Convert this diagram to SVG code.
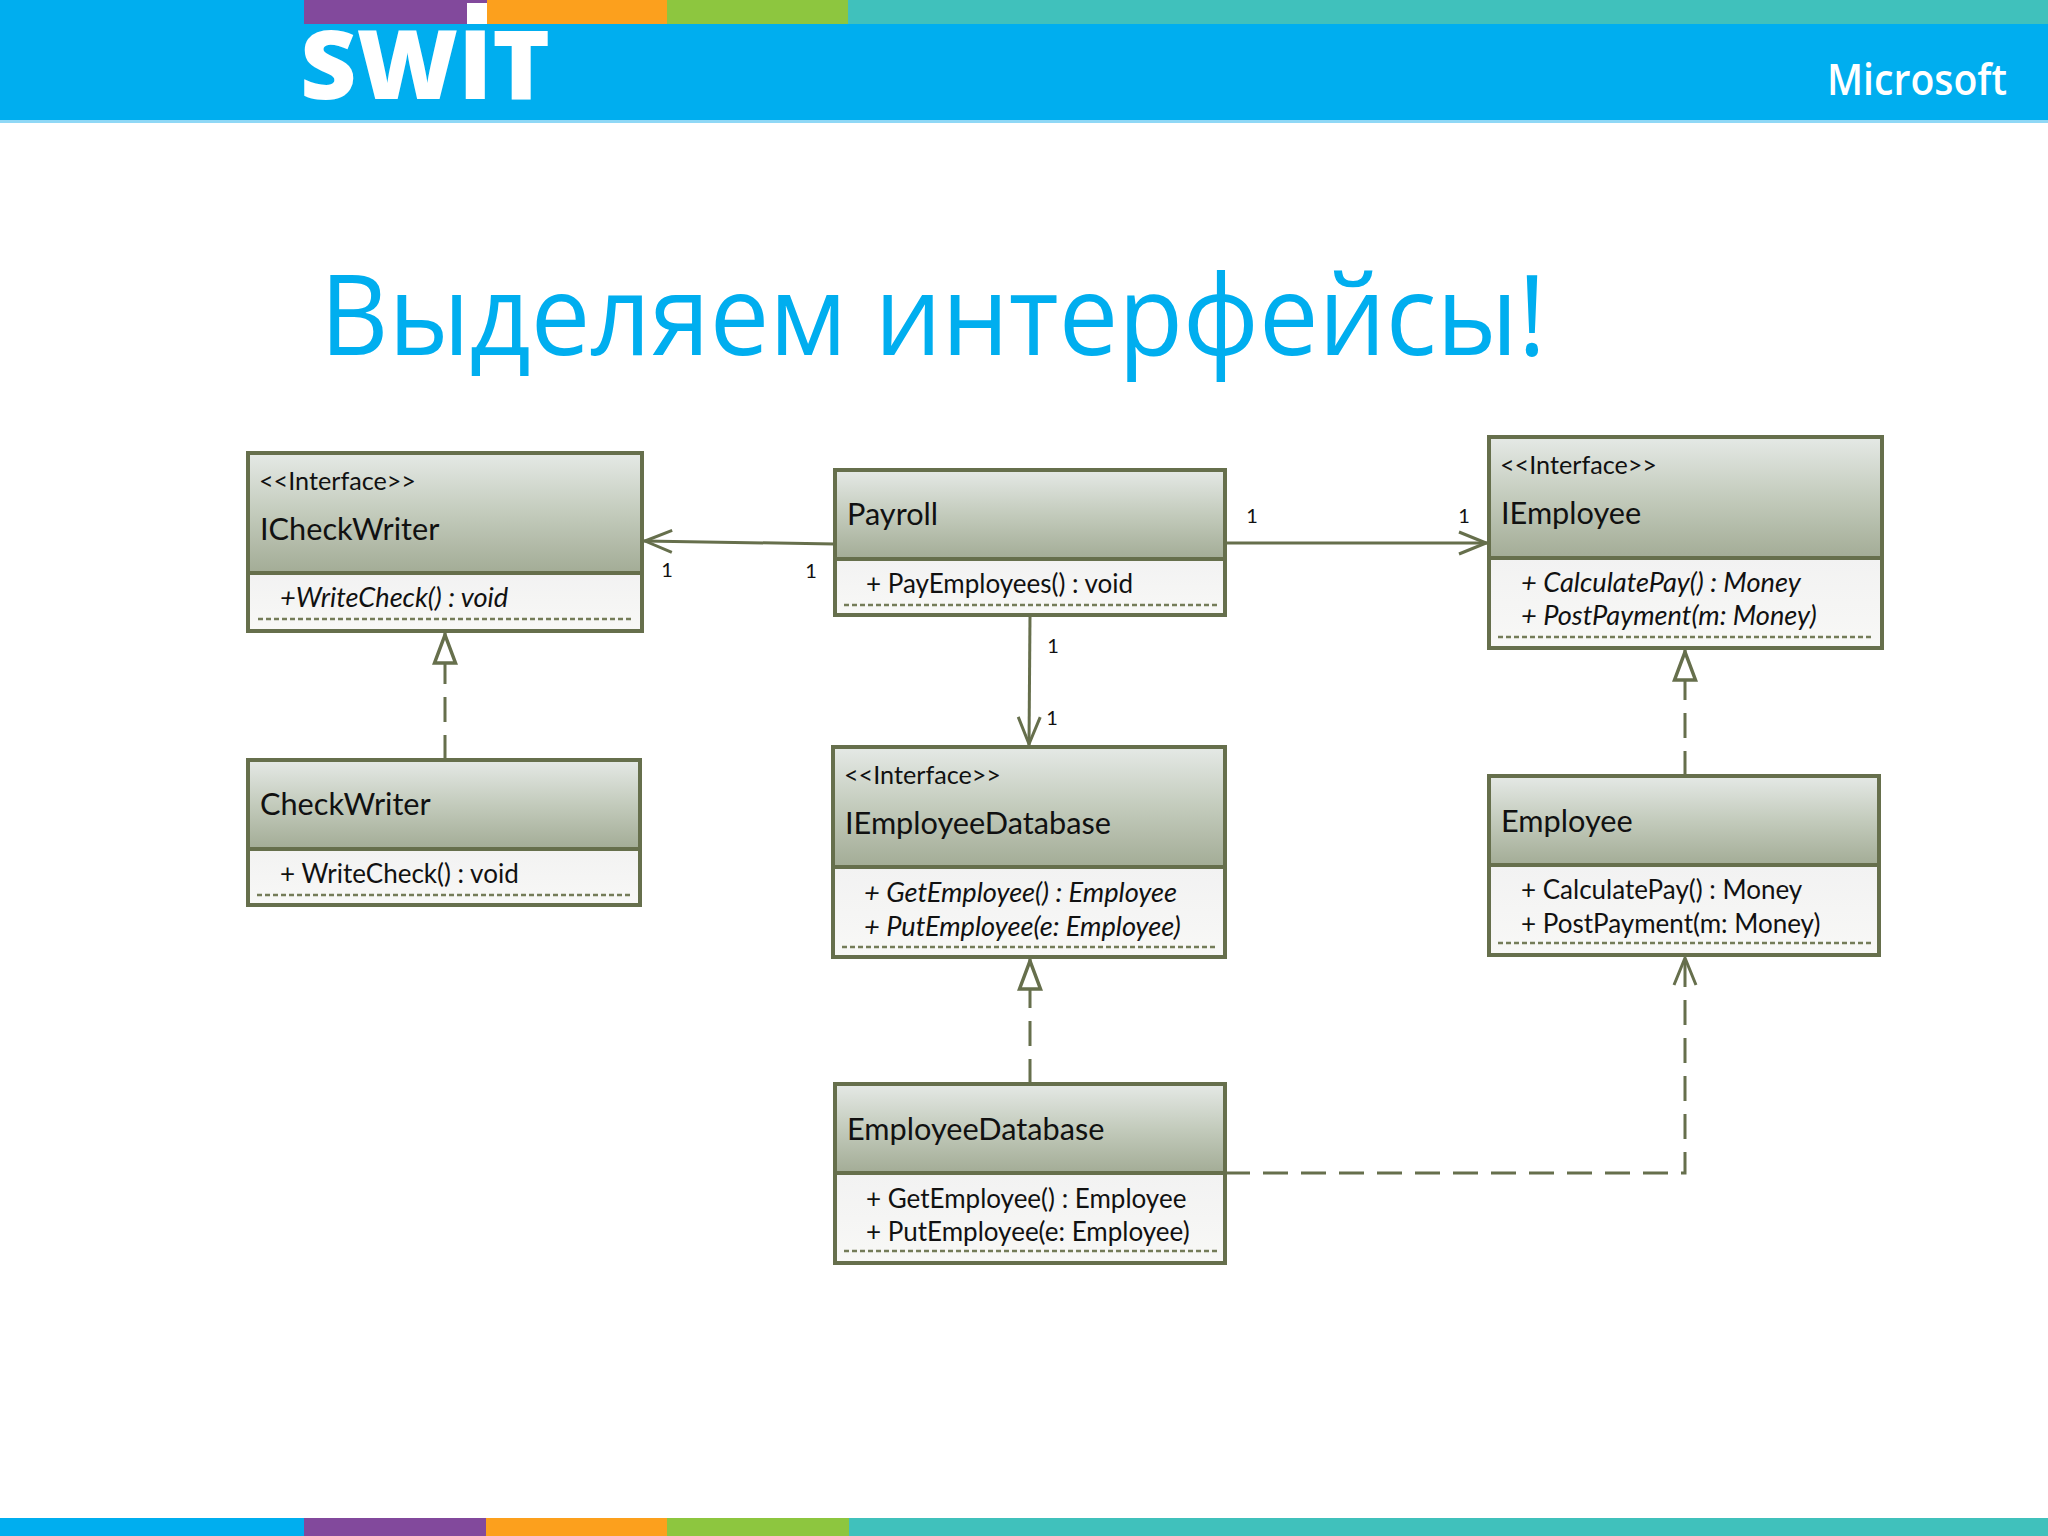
<svg xmlns="http://www.w3.org/2000/svg" width="2048" height="1536" viewBox="0 0 2048 1536">
<defs>
<linearGradient id="head" x1="0" y1="0" x2="0" y2="1"><stop offset="0" stop-color="#e5e9e6"/><stop offset="0.5" stop-color="#c3cbbc"/><stop offset="1" stop-color="#a3ac96"/></linearGradient>
<linearGradient id="body" x1="0" y1="0" x2="0" y2="1"><stop offset="0" stop-color="#f2f2f2"/><stop offset="1" stop-color="#f8f8f6"/></linearGradient>
<marker id="open" viewBox="0 0 32 30" refX="30" refY="15" markerWidth="32" markerHeight="30" markerUnits="userSpaceOnUse" orient="auto"><path d="M2 4 L29 15 L2 26" fill="none" stroke="#666f4c" stroke-width="3"/></marker>
<marker id="tri" viewBox="0 0 34 26" refX="33" refY="13" markerWidth="34" markerHeight="26" markerUnits="userSpaceOnUse" orient="auto"><path d="M3 2.5 L31 13 L3 23.5 Z" fill="#fff" stroke="#666f4c" stroke-width="3.5"/></marker>
</defs>
<style>
.h{fill:url(#head)}
.b{fill:url(#body)}
.o{fill:none;stroke:#666f4c;stroke-width:4}
.d{stroke:#747c58;stroke-width:2.5;stroke-dasharray:5 3}
text{font-family:"Lato","Liberation Sans",sans-serif;fill:#111}
.s{font-size:25.2px}
.n{font-size:30.7px}
.m{font-size:26px}
.i{font-size:27.2px;font-style:italic}
.l{font-size:20px;text-anchor:middle}
.c{fill:none;stroke:#666f4c;stroke-width:3}
.da{stroke-dasharray:25 13}
</style>
<g id="header">
<rect x="0" y="0" width="2048" height="121" fill="#00aeef"/>
<rect x="0" y="120" width="2048" height="3" fill="#8fd8f6"/>
<rect x="304" y="0" width="183" height="24" fill="#82499c"/>
<rect x="487" y="0" width="180" height="24" fill="#fca01d"/>
<rect x="667" y="0" width="181" height="24" fill="#8dc63f"/>
<rect x="848" y="0" width="1200" height="24" fill="#40c1bc"/>
<rect x="467" y="3" width="20" height="21" fill="#fff"/>
<text x="300" y="99" textLength="250" lengthAdjust="spacingAndGlyphs" style="font-family:'Open Sans',sans-serif;font-weight:800;font-size:95px;fill:#fff">SWIT</text>
<text x="1827" y="95" textLength="180" lengthAdjust="spacingAndGlyphs" style="font-family:'Open Sans',sans-serif;font-weight:600;font-size:44px;fill:#fff">Microsoft</text>
</g>
<g id="footer">
<rect x="0" y="1518" width="304" height="18" fill="#00aeef"/>
<rect x="304" y="1518" width="182" height="18" fill="#82499c"/>
<rect x="486" y="1518" width="181" height="18" fill="#fca01d"/>
<rect x="667" y="1518" width="182" height="18" fill="#8dc63f"/>
<rect x="849" y="1518" width="1199" height="18" fill="#40c1bc"/>
</g>
<text id="title" x="320" y="355" textLength="1226" lengthAdjust="spacingAndGlyphs" style="font-family:'Open Sans',sans-serif;font-weight:400;font-size:112px;fill:#00aeef">Выделяем интерфейсы!</text>
<g id="connectors">
<path class="c" d="M835 544 L644 541" marker-end="url(#open)"/>
<path class="c" d="M1225 543 L1487 543" marker-end="url(#open)"/>
<path class="c" d="M1030 615 L1029 745" marker-end="url(#open)"/>
<path class="c da" d="M445 760 L445 633" marker-end="url(#tri)"/>
<path class="c da" d="M1685 776 L1685 650" marker-end="url(#tri)"/>
<path class="c da" d="M1030 1084 L1030 959" marker-end="url(#tri)"/>
<path class="c da" d="M1225 1173 L1685 1173 L1685 957" marker-end="url(#open)"/>
<text class="l" x="667" y="577">1</text>
<text class="l" x="811" y="578">1</text>
<text class="l" x="1252" y="523">1</text>
<text class="l" x="1464" y="523">1</text>
<text class="l" x="1053" y="653">1</text>
<text class="l" x="1052" y="725">1</text>
</g>
<g id="ICheckWriter">
<rect class="h" x="248" y="453" width="394" height="120"/><rect class="b" x="248" y="573" width="394" height="58"/>
<line class="d" x1="258" y1="619" x2="634" y2="619"/>
<rect class="o" x="248" y="453" width="394" height="178"/><line class="o" x1="248" y1="573" x2="642" y2="573"/>
<text class="s" x="259" y="490">&lt;&lt;Interface&gt;&gt;</text><text class="n" x="260" y="540">ICheckWriter</text>
<text class="i" x="280" y="607">+WriteCheck() : void</text>
</g>
<g id="Payroll">
<rect class="h" x="835" y="470" width="390" height="89"/><rect class="b" x="835" y="559" width="390" height="56"/>
<line class="d" x1="844" y1="605" x2="1218" y2="605"/>
<rect class="o" x="835" y="470" width="390" height="145"/><line class="o" x1="835" y1="559" x2="1225" y2="559"/>
<text class="n" x="847" y="525">Payroll</text>
<text class="m" x="866" y="593">+ PayEmployees() : void</text>
</g>
<g id="IEmployee">
<rect class="h" x="1489" y="437" width="393" height="121"/><rect class="b" x="1489" y="558" width="393" height="90"/>
<line class="d" x1="1498" y1="637" x2="1874" y2="637"/>
<rect class="o" x="1489" y="437" width="393" height="211"/><line class="o" x1="1489" y1="558" x2="1882" y2="558"/>
<text class="s" x="1500" y="474">&lt;&lt;Interface&gt;&gt;</text><text class="n" x="1501" y="524">IEmployee</text>
<text class="i" x="1521" y="592">+ CalculatePay() : Money</text>
<text class="i" x="1521" y="625">+ PostPayment(m: Money)</text>
</g>
<g id="CheckWriter">
<rect class="h" x="248" y="760" width="392" height="89"/><rect class="b" x="248" y="849" width="392" height="56"/>
<line class="d" x1="257" y1="895" x2="632" y2="895"/>
<rect class="o" x="248" y="760" width="392" height="145"/><line class="o" x1="248" y1="849" x2="640" y2="849"/>
<text class="n" x="260" y="815">CheckWriter</text>
<text class="m" x="280" y="883">+ WriteCheck() : void</text>
</g>
<g id="IEmployeeDatabase">
<rect class="h" x="833" y="747" width="392" height="120"/><rect class="b" x="833" y="867" width="392" height="90"/>
<line class="d" x1="842" y1="947" x2="1218" y2="947"/>
<rect class="o" x="833" y="747" width="392" height="210"/><line class="o" x1="833" y1="867" x2="1225" y2="867"/>
<text class="s" x="844" y="784">&lt;&lt;Interface&gt;&gt;</text><text class="n" x="845" y="834">IEmployeeDatabase</text>
<text class="i" x="864" y="902">+ GetEmployee() : Employee</text>
<text class="i" x="864" y="936">+ PutEmployee(e: Employee)</text>
</g>
<g id="Employee">
<rect class="h" x="1489" y="776" width="390" height="89"/><rect class="b" x="1489" y="865" width="390" height="90"/>
<line class="d" x1="1498" y1="943" x2="1872" y2="943"/>
<rect class="o" x="1489" y="776" width="390" height="179"/><line class="o" x1="1489" y1="865" x2="1879" y2="865"/>
<text class="n" x="1501" y="832">Employee</text>
<text class="m" x="1521" y="899">+ CalculatePay() : Money</text>
<text class="m" x="1521" y="933">+ PostPayment(m: Money)</text>
</g>
<g id="EmployeeDatabase">
<rect class="h" x="835" y="1084" width="390" height="89"/><rect class="b" x="835" y="1173" width="390" height="90"/>
<line class="d" x1="844" y1="1251" x2="1218" y2="1251"/>
<rect class="o" x="835" y="1084" width="390" height="179"/><line class="o" x1="835" y1="1173" x2="1225" y2="1173"/>
<text class="n" x="847" y="1140">EmployeeDatabase</text>
<text class="m" x="866" y="1208">+ GetEmployee() : Employee</text>
<text class="m" x="866" y="1241">+ PutEmployee(e: Employee)</text>
</g>
</svg>
